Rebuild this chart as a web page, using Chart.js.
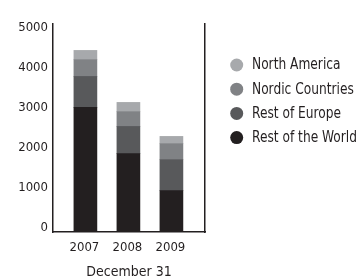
<!DOCTYPE html>
<html>
<head>
<meta charset="utf-8">
<script src="https://cdn.jsdelivr.net/npm/chart.js@4"></script>
<style>
html,body{margin:0;padding:0;background:#fff;}
#wrap{position:relative;width:362px;height:277px;}
</style>
</head>
<body>
<div id="wrap"><canvas id="c" width="362" height="277"></canvas></div>
<script>
const years = ['2007', '2008', '2009'];
const restOfWorld = [3115, 1958, 1033];
const restOfEurope = [775, 682, 775];
const nordicCountries = [418, 368, 400];
const northAmerica = [232, 232, 182];
const yTicks = [0, 1000, 2000, 3000, 4000, 5000];
const xTitle = 'December 31';

const FONT = "'DejaVu Sans Condensed', 'DejaVu Sans', sans-serif";
const TXT = '#231f20';

const legendPlugin = {
  id: 'sideLegend',
  afterDraw(chart) {
    const ctx = chart.ctx;
    const ds = chart.data.datasets.slice().reverse();
    ctx.save();
    ctx.font = '15px ' + FONT;
    ctx.textBaseline = 'middle';
    ctx.textAlign = 'left';
    const longest = Math.max(...ds.map(d => ctx.measureText(d.label).width));
    const sx = 105 / longest;
    ds.forEach((d, i) => {
      const y = 65 + i * 24.2;
      ctx.beginPath();
      ctx.arc(236.7, y, 6.5, 0, Math.PI * 2);
      ctx.fillStyle = d.backgroundColor;
      ctx.fill();
      ctx.save();
      ctx.translate(252, y + 0.5);
      ctx.scale(sx, 1);
      ctx.fillStyle = TXT;
      ctx.fillText(d.label, 0, 0);
      ctx.restore();
    });
    ctx.restore();
  }
};

new Chart(document.getElementById('c'), {
  type: 'bar',
  data: {
    labels: years,
    datasets: [
      { label: 'Rest of the World', data: restOfWorld, backgroundColor: '#231f20' },
      { label: 'Rest of Europe', data: restOfEurope, backgroundColor: '#58595b' },
      { label: 'Nordic Countries', data: nordicCountries, backgroundColor: '#808285' },
      { label: 'North America', data: northAmerica, backgroundColor: '#a7a9ac' }
    ]
  },
  options: {
    responsive: false,
    animation: false,
    events: [],
    layout: { padding: { top: 24, right: 157, left: 0, bottom: 0 } },
    datasets: { bar: { barThickness: 23, borderWidth: 0 } },
    plugins: { legend: { display: false }, tooltip: { enabled: false } },
    scales: {
      x: {
        type: 'linear',
        stacked: true,
        offset: false,
        min: 2006.2465,
        max: 2009.781,
        afterBuildTicks: s => { s.ticks = years.map(y => ({ value: Number(y) })); },
        afterFit: s => { s.height = 45; },
        grid: { display: false, drawTicks: false },
        border: { display: true, color: TXT, width: 1.5 },
        ticks: { color: TXT, font: { family: FONT, size: 13 }, padding: 8, maxRotation: 0, autoSkip: false,
                 labelOffset: -1, callback: v => String(v) },
        title: { display: true, text: xTitle, color: TXT, font: { family: FONT, size: 14 }, padding: { top: 0, bottom: -4 } }
      },
      y: {
        stacked: true,
        min: 0,
        max: 5200,
        afterBuildTicks: s => { s.ticks = yTicks.map(v => ({ value: v })); },
        afterFit: s => { s.width = 53; },
        grid: { display: false, drawTicks: false },
        border: { display: true, color: TXT, width: 1.5 },
        ticks: { color: TXT, font: { family: FONT, size: 13 }, padding: 5, labelOffset: -4, callback: v => String(v) }
      },
      y2: {
        position: 'right',
        min: 0,
        max: 5200,
        afterFit: s => { s.width = 0; },
        grid: { display: false, drawTicks: false },
        border: { display: true, color: TXT, width: 1.5 },
        ticks: { display: false }
      }
    }
  },
  plugins: [legendPlugin]
});
</script>
</body>
</html>
